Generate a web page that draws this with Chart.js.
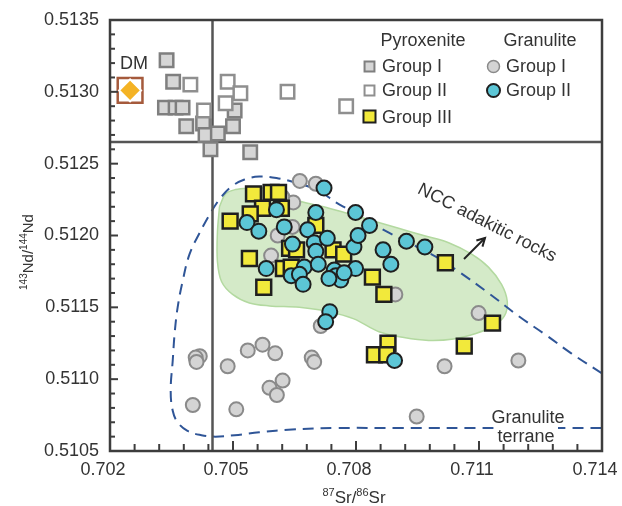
<!DOCTYPE html>
<html><head><meta charset="utf-8">
<script src="https://cdn.jsdelivr.net/npm/chart.js@4.4.0/dist/chart.umd.min.js"></script>
<style>html,body{margin:0;padding:0;background:#fff;overflow:hidden}#wrap{width:622px;height:506px;position:relative}</style>
</head><body><div id="wrap"><canvas id="c" width="622" height="506"></canvas></div>
<script>
// ---- data ----
const xTickLabels = [0.702, 0.705, 0.708, 0.711, 0.714];
const yTickLabels = [0.5105, 0.5110, 0.5115, 0.5120, 0.5125, 0.5130, 0.5135];
const xMinorStep = 0.0006, yMinorStep = 0.0001;
const bseSr = 0.7045;      // vertical reference line
const churNd = 0.51265;    // horizontal reference line
const dmPoint = [[0.70249, 0.51301]];
const pyroxGroupI = [[0.70338,0.51322],[0.70354,0.51307],[0.70334,0.51289],[0.70360,0.51289],[0.70377,0.51289],[0.70386,0.51276],[0.70427,0.51278],[0.70433,0.51270],[0.70463,0.51271],[0.70445,0.51260],[0.70500,0.51276],[0.70504,0.51287],[0.70542,0.51258]];
const pyroxGroupII = [[0.70396,0.51305],[0.70487,0.51307],[0.70518,0.51299],[0.70482,0.51292],[0.70429,0.51287],[0.70633,0.51300],[0.70776,0.51290]];
const pyroxGroupIII = [[0.70550,0.51229],[0.70593,0.51230],[0.70611,0.51230],[0.70572,0.51219],[0.70542,0.51215],[0.70493,0.51210],[0.70618,0.51219],[0.70702,0.51207],[0.70540,0.51184],[0.70623,0.51177],[0.70642,0.51178],[0.70575,0.51164],[0.70638,0.51191],[0.70655,0.51190],[0.70744,0.51190],[0.70770,0.51187],[0.70840,0.51171],[0.70868,0.51159],[0.71018,0.51181],[0.71133,0.51139],[0.70878,0.51125],[0.70845,0.51117],[0.70875,0.51117],[0.71064,0.51123]];
const granuliteI = [[0.70663,0.51238],[0.70702,0.51236],[0.70647,0.51223],[0.70609,0.51200],[0.70593,0.51186],[0.70896,0.51159],[0.70714,0.51137],[0.71099,0.51146],[0.70419,0.51116],[0.70409,0.51115],[0.70411,0.51112],[0.70402,0.51082],[0.70487,0.51109],[0.70508,0.51079],[0.70536,0.51120],[0.70572,0.51124],[0.70603,0.51118],[0.70621,0.51099],[0.70589,0.51094],[0.70607,0.51089],[0.70692,0.51115],[0.70698,0.51112],[0.71016,0.51109],[0.71196,0.51113],[0.70948,0.51074],[0.70620,0.51227],[0.70645,0.51206]];
const granuliteII = [[0.70722,0.51233],[0.70606,0.51218],[0.70534,0.51209],[0.70563,0.51203],[0.70625,0.51206],[0.70702,0.51216],[0.70799,0.51216],[0.70833,0.51207],[0.70923,0.51196],[0.70968,0.51192],[0.70645,0.51194],[0.70682,0.51204],[0.70698,0.51195],[0.70730,0.51198],[0.70702,0.51189],[0.70795,0.51192],[0.70805,0.51200],[0.70866,0.51190],[0.70885,0.51180],[0.70581,0.51177],[0.70674,0.51178],[0.70642,0.51172],[0.70662,0.51173],[0.70671,0.51166],[0.70708,0.51180],[0.70747,0.51176],[0.70751,0.51172],[0.70763,0.51169],[0.70799,0.51177],[0.70734,0.51170],[0.70736,0.51147],[0.70726,0.51140],[0.70894,0.51113],[0.70771,0.51174]];
const adakiticField = [[0.70467,0.51220],[0.70482,0.51229],[0.70506,0.51232],[0.70540,0.51233],[0.70577,0.51233],[0.70613,0.51230],[0.70662,0.51224],[0.70734,0.51219],[0.70832,0.51211],[0.70904,0.51205],[0.70965,0.51200],[0.71026,0.51195],[0.71082,0.51187],[0.71123,0.51178],[0.71155,0.51166],[0.71169,0.51154],[0.71162,0.51144],[0.71135,0.51137],[0.71094,0.51132],[0.71038,0.51128],[0.70977,0.51127],[0.70917,0.51129],[0.70856,0.51133],[0.70795,0.51142],[0.70734,0.51147],[0.70662,0.51150],[0.70589,0.51151],[0.70540,0.51153],[0.70499,0.51159],[0.70472,0.51168],[0.70462,0.51182],[0.70462,0.51202],[0.70467,0.51220]];
const granuliteTerrane = [[0.71400,0.51104],[0.71325,0.51118],[0.71262,0.51131],[0.71196,0.51144],[0.71123,0.51160],[0.71050,0.51175],[0.71002,0.51184],[0.70929,0.51195],[0.70880,0.51202],[0.70824,0.51211],[0.70783,0.51218],[0.70751,0.51223],[0.70710,0.51231],[0.70662,0.51236],[0.70606,0.51240],[0.70564,0.51241],[0.70528,0.51239],[0.70496,0.51234],[0.70472,0.51227],[0.70448,0.51217],[0.70419,0.51202],[0.70394,0.51187],[0.70377,0.51168],[0.70365,0.51150],[0.70358,0.51133],[0.70353,0.51113],[0.70348,0.51092],[0.70353,0.51078],[0.70365,0.51070],[0.70389,0.51064],[0.70423,0.51061],[0.70457,0.51060],[0.70504,0.51061],[0.70564,0.51063],[0.70644,0.51065],[0.70751,0.51066],[0.70904,0.51066],[0.71147,0.51066],[0.71400,0.51066]];

const FONT = "'Liberation Sans', Arial, sans-serif";
Chart.defaults.font.family = FONT;
const toXY = a => a.map(p => ({x: p[0], y: p[1]}));
const TXT = '#333';

function richText(ctx, parts, cx, base, size, supSize, rise) {
  let w = 0;
  parts.forEach(p => { ctx.font = (p.sup ? supSize : size) + 'px ' + FONT; p.w = ctx.measureText(p.t).width; w += p.w; });
  let x = cx - w / 2;
  ctx.textAlign = 'left'; ctx.textBaseline = 'alphabetic';
  parts.forEach(p => { ctx.font = (p.sup ? supSize : size) + 'px ' + FONT; ctx.fillText(p.t, x, p.sup ? base - rise : base); x += p.w; });
}

const decor = {
  id: 'decor',
  afterDatasetsDraw(chart) {
    const {ctx, chartArea: a, scales: {x, y}} = chart;
    ctx.save();
    // gap in the dashed curve behind "terrane"
    ctx.fillStyle = '#fff';
    ctx.fillRect(494, 423, 64, 8);
    // frame
    ctx.strokeStyle = '#3d3d3d'; ctx.lineWidth = 2.5;
    ctx.strokeRect(a.left, a.top, a.right - a.left, a.bottom - a.top);
    // inner ticks
    ctx.lineWidth = 2;
    const nx = Math.round((xTickLabels[xTickLabels.length-1] - xTickLabels[0]) / xMinorStep);
    for (let i = 0; i <= nx; i++) {
      const px = x.getPixelForValue(xTickLabels[0] + i * xMinorStep);
      const len = i % 5 === 0 ? 10 : 7;
      ctx.beginPath(); ctx.moveTo(px, a.bottom); ctx.lineTo(px, a.bottom - len); ctx.stroke();
    }
    const ny = Math.round((yTickLabels[yTickLabels.length-1] - yTickLabels[0]) / yMinorStep);
    for (let i = 0; i <= ny; i++) {
      const py = y.getPixelForValue(yTickLabels[0] + i * yMinorStep);
      const len = i % 5 === 0 ? 8 : 5;
      ctx.beginPath(); ctx.moveTo(a.left, py); ctx.lineTo(a.left + len, py); ctx.stroke();
    }
    ctx.restore();
  },
  afterDraw(chart) {
    const {ctx} = chart;
    ctx.save();
    ctx.fillStyle = TXT;
    // axis titles
    richText(ctx, [{t:'87',sup:true},{t:'Sr/'},{t:'86',sup:true},{t:'Sr'}], 354, 503, 17, 11, 7);
    ctx.save(); ctx.translate(33, 252); ctx.rotate(-Math.PI/2);
    richText(ctx, [{t:'143',sup:true},{t:'Nd/'},{t:'144',sup:true},{t:'Nd'}], 0, 0, 15, 10, 6);
    ctx.restore();
    // DM
    ctx.font = '18px ' + FONT; ctx.textAlign = 'center'; ctx.textBaseline = 'alphabetic';
    ctx.fillText('DM', 134, 69);
    // Legend
    ctx.fillText('Pyroxenite', 423, 46);
    ctx.fillText('Granulite', 540, 46);
    ctx.textAlign = 'left';
    ctx.fillText('Group I', 382, 72);
    ctx.fillText('Group II', 382, 96);
    ctx.fillText('Group III', 382, 122.5);
    ctx.fillText('Group I', 506, 72);
    ctx.fillText('Group II', 506, 96);
    const mk = (x, y, style, r, bg, bd, bw) => {
      ctx.fillStyle = bg; ctx.strokeStyle = bd; ctx.lineWidth = bw;
      Chart.helpers.drawPoint(ctx, {pointStyle: style, radius: r, borderWidth: bw, rotation: 0}, x, y);
    };
    mk(369.5, 66.5, 'rect', 7, '#d6d6d6', '#7f7f7f', 2);
    mk(369.5, 90.5, 'rect', 7, '#ffffff', '#8f8f8f', 2);
    mk(369.5, 116.5, 'rect', 8.5, '#f2e93b', '#1f1f1f', 2);
    mk(493.5, 66.5, 'circle', 6, '#d4d4d4', '#8a8a8a', 1.5);
    mk(493.5, 90.5, 'circle', 6.5, '#5cc6d6', '#1f1f1f', 2);
    // NCC adakitic rocks
    ctx.fillStyle = TXT;
    ctx.save(); ctx.translate(487, 223); ctx.rotate(27 * Math.PI / 180);
    ctx.font = '18px ' + FONT; ctx.textAlign = 'center'; ctx.textBaseline = 'middle';
    ctx.fillText('NCC adakitic rocks', 0, 0);
    ctx.restore();
    // arrow
    ctx.strokeStyle = '#222'; ctx.lineWidth = 2;
    const x0 = 464, y0 = 259, x1 = 485, y1 = 238;
    ctx.beginPath(); ctx.moveTo(x0, y0); ctx.lineTo(x1, y1); ctx.stroke();
    const ang = Math.atan2(y1 - y0, x1 - x0);
    ctx.beginPath();
    ctx.moveTo(x1 - 9 * Math.cos(ang - 0.5), y1 - 9 * Math.sin(ang - 0.5));
    ctx.lineTo(x1, y1);
    ctx.lineTo(x1 - 9 * Math.cos(ang + 0.5), y1 - 9 * Math.sin(ang + 0.5));
    ctx.stroke();
    // Granulite terrane
    ctx.font = '18px ' + FONT; ctx.textAlign = 'center'; ctx.textBaseline = 'alphabetic';
    ctx.fillText('Granulite', 528, 423);
    ctx.fillText('terrane', 526, 441.5);
    ctx.restore();
  }
};

const pts = (label, data, order, style, r, bg, bd, bw) => ({
  label, data: toXY(data), order, pointStyle: style, pointRadius: r, pointHoverRadius: r,
  backgroundColor: bg, borderColor: bd, borderWidth: bw, showLine: false
});

new Chart(document.getElementById('c'), {
  type: 'scatter',
  data: {
    datasets: [
      pts('DM', dmPoint, 0, 'rectRot', 11, '#f4b325', '#ffffff', 2),
      pts('DM box', dmPoint, 0.5, 'rect', 17.5, '#ffffff', '#a55a3c', 2.5),
      pts('Granulite Group II', granuliteII, 1, 'circle', 7.5, '#5cc6d6', '#1f1f1f', 2),
      pts('Pyroxenite Group III', pyroxGroupIII, 2, 'rect', 10.5, '#f2e93b', '#1f1f1f', 2.5),
      pts('Granulite Group I', granuliteI, 3, 'circle', 7, '#d4d4d4', '#8a8a8a', 2),
      pts('Pyroxenite Group II', pyroxGroupII, 4, 'rect', 9.5, '#ffffff', '#8f8f8f', 2.5),
      pts('Pyroxenite Group I', pyroxGroupI, 5, 'rect', 9.5, '#d6d6d6', '#7f7f7f', 2.5),
      {label: 'Sr ref', data: [{x: bseSr, y: yTickLabels[0]}, {x: bseSr, y: yTickLabels[yTickLabels.length-1]}], order: 6, showLine: true, pointRadius: 0, borderColor: '#555', borderWidth: 2.5},
      {label: 'Nd ref', data: [{x: xTickLabels[0], y: churNd}, {x: xTickLabels[xTickLabels.length-1], y: churNd}], order: 6, showLine: true, pointRadius: 0, borderColor: '#555', borderWidth: 2.5},
      {label: 'Granulite terrane', data: toXY(granuliteTerrane), order: 7, showLine: true, pointRadius: 0, borderColor: '#2f5597', borderWidth: 2, borderDash: [11, 7], tension: 0.4, fill: false},
      {label: 'NCC adakitic rocks', data: toXY(adakiticField), order: 8, showLine: true, pointRadius: 0, borderColor: '#b3d9a0', borderWidth: 1.5, backgroundColor: '#d4eac8', tension: 0.35, fill: 'shape'}
    ]
  },
  options: {
    responsive: false, animation: false, devicePixelRatio: 1,
    layout: {padding: {top: 16, right: 18, left: 0, bottom: 0}},
    plugins: {legend: {display: false}, tooltip: {enabled: false}},
    scales: {
      x: {
        type: 'linear', min: xTickLabels[0], max: xTickLabels[xTickLabels.length-1],
        afterBuildTicks: s => { s.ticks = xTickLabels.map(v => ({value: v})); },
        afterFit: s => { s.height = 55; s.paddingLeft = 0; s.paddingRight = 0; },
        ticks: {callback: v => v.toFixed(3), font: {size: 18}, color: TXT, padding: 8, labelOffset: -7, maxRotation: 0, autoSkip: false},
        grid: {display: false, drawTicks: false}, border: {display: false}
      },
      y: {
        type: 'linear', min: yTickLabels[0], max: yTickLabels[yTickLabels.length-1],
        afterBuildTicks: s => { s.ticks = yTickLabels.map(v => ({value: v})); },
        afterFit: s => { s.width = 110; s.paddingTop = 0; s.paddingBottom = 0; },
        ticks: {callback: v => v.toFixed(4), font: {size: 18}, color: TXT, padding: 11, autoSkip: false},
        grid: {display: false, drawTicks: false}, border: {display: false}
      }
    }
  },
  plugins: [decor]
});
</script></body></html>
